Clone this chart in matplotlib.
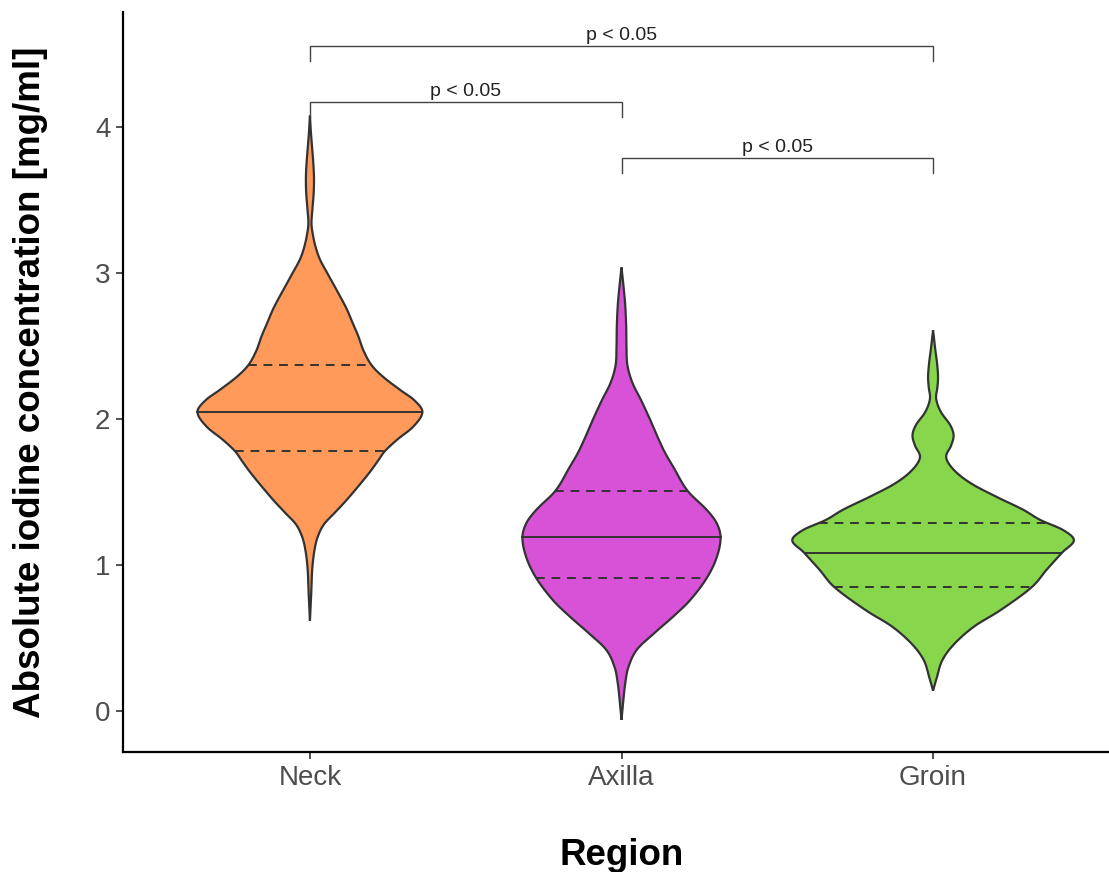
import numpy as np
import matplotlib.pyplot as plt

plt.rcParams['font.family'] = ['Liberation Sans', 'DejaVu Sans']

regions = ['Neck', 'Axilla', 'Groin']
fill_colors = ['#FF9A5B', '#D752D6', '#88D64B']

# violin outlines: concentration (mg/ml) and half width of the density
neck_y = [0.62, 0.80, 0.99, 1.12, 1.20, 1.28, 1.36, 1.44, 1.54, 1.64, 1.72, 1.78,
          1.86, 1.95, 2.05, 2.13, 2.20, 2.29, 2.37, 2.47, 2.57, 2.66, 2.76, 2.88,
          3.00, 3.10, 3.19, 3.27, 3.34, 3.44, 3.55, 3.65, 3.75, 3.86, 3.97, 4.08]
neck_w = [0.0, 0.004, 0.008, 0.016, 0.026, 0.045, 0.080, 0.115, 0.155, 0.193, 0.220, 0.240,
          0.280, 0.332, 0.361, 0.335, 0.290, 0.235, 0.198, 0.172, 0.155, 0.137, 0.117, 0.087,
          0.056, 0.031, 0.017, 0.009, 0.005, 0.008, 0.012, 0.013, 0.011, 0.007, 0.003, 0.0]

axilla_y = [-0.06, 0.075, 0.19, 0.30, 0.42, 0.53, 0.65, 0.76, 0.91, 1.05, 1.19, 1.29,
            1.38, 1.51, 1.67, 1.79, 2.02, 2.13, 2.25, 2.37, 2.50, 2.64, 2.78, 2.90, 3.04]
axilla_w = [0.0, 0.006, 0.012, 0.022, 0.049, 0.103, 0.167, 0.220, 0.273, 0.305, 0.318, 0.305,
            0.273, 0.212, 0.167, 0.135, 0.087, 0.063, 0.035, 0.019, 0.016, 0.015, 0.012, 0.007, 0.0]

groin_y = [0.14, 0.23, 0.35, 0.46, 0.58, 0.69, 0.85, 0.97, 1.09, 1.17, 1.24, 1.31, 1.38,
           1.47, 1.56, 1.65, 1.74, 1.82, 1.89, 1.96, 2.05, 2.14, 2.22, 2.29, 2.38, 2.48, 2.61]
groin_w = [0.0, 0.012, 0.030, 0.068, 0.132, 0.215, 0.317, 0.365, 0.416, 0.452, 0.418, 0.344, 0.289,
           0.202, 0.122, 0.068, 0.042, 0.058, 0.066, 0.055, 0.025, 0.010, 0.014, 0.016, 0.013, 0.007, 0.0]

# 25th, 50th, 75th percentiles
quartiles = [
    [1.78, 2.05, 2.37],
    [0.91, 1.19, 1.51],
    [0.85, 1.08, 1.29],
]

# significance brackets: (group a, group b, height, label)
comparisons = [
    (1, 3, 4.555, 'p < 0.05'),
    (1, 2, 4.171, 'p < 0.05'),
    (2, 3, 3.788, 'p < 0.05'),
]

outline = '#333333'


def smooth_profile(y, w, n=400):
    # cubic hermite through the outline points (catmull-rom slopes)
    y = np.asarray(y, float)
    w = np.asarray(w, float)
    m = np.zeros_like(w)
    m[1:-1] = (w[2:] - w[:-2]) / (y[2:] - y[:-2])
    m[0] = (w[1] - w[0]) / (y[1] - y[0])
    m[-1] = (w[-1] - w[-2]) / (y[-1] - y[-2])
    yy = np.linspace(y[0], y[-1], n)
    idx = np.clip(np.searchsorted(y, yy) - 1, 0, len(y) - 2)
    h = y[idx + 1] - y[idx]
    t = (yy - y[idx]) / h
    h00 = 2 * t**3 - 3 * t**2 + 1
    h10 = t**3 - 2 * t**2 + t
    h01 = -2 * t**3 + 3 * t**2
    h11 = t**3 - t**2
    ww = h00 * w[idx] + h10 * h * m[idx] + h01 * w[idx + 1] + h11 * h * m[idx + 1]
    return yy, np.clip(ww, 0, None)


fig = plt.figure(figsize=(11.09, 8.72), dpi=100)
ax = fig.add_axes([123 / 1109, 1 - 752 / 872, 997 / 1109, 740 / 872])

profiles = [(neck_y, neck_w), (axilla_y, axilla_w), (groin_y, groin_w)]
for i, (py, pw) in enumerate(profiles):
    x0 = i + 1
    yy, ww = smooth_profile(py, pw)
    xs = np.concatenate([x0 - ww, (x0 + ww)[::-1]])
    ys = np.concatenate([yy, yy[::-1]])
    ax.fill(xs, ys, facecolor=fill_colors[i], edgecolor=outline, linewidth=1.6, zorder=2)
    for j, q in enumerate(quartiles[i]):
        half = np.interp(q, yy, ww)
        if j == 1:
            ax.plot([x0 - half, x0 + half], [q, q], color=outline, lw=1.4, zorder=3)
        else:
            ax.plot([x0 - half, x0 + half], [q, q], color=outline, lw=1.4,
                    dashes=(4.5, 3.5), zorder=3)

tip = 0.1
for a, b, h, lab in comparisons:
    ax.plot([a, a, b, b], [h - tip, h, h, h - tip], color='#444444', lw=1.0,
            solid_joinstyle='miter', zorder=3)
    ax.text((a + b) / 2, h + 0.045, lab, ha='center', va='baseline', fontsize=14,
            color='#222222')

ax.set_xlim(0.4, 3.6)
ax.set_ylim(-0.28, 4.79)
ax.set_xticks([1, 2, 3])
ax.set_xticklabels(regions)
ax.set_yticks([0, 1, 2, 3, 4])

for s in ['top', 'right']:
    ax.spines[s].set_visible(False)
for s in ['left', 'bottom']:
    ax.spines[s].set_linewidth(1.6)
    ax.spines[s].set_color('black')

ax.tick_params(axis='both', length=5, width=1.2, color='#333333',
               labelsize=20, labelcolor='#4D4D4D', pad=4)

ax.set_ylabel('Absolute iodine concentration [mg/ml]', fontsize=26.5,
              fontweight='bold', color='black')
ax.set_xlabel('Region', fontsize=26.5, fontweight='bold', color='black')
ax.yaxis.set_label_coords(-0.075, 0.5)
ax.xaxis.set_label_coords(0.5005, -0.116)

fig.savefig('out.png', dpi=100)
